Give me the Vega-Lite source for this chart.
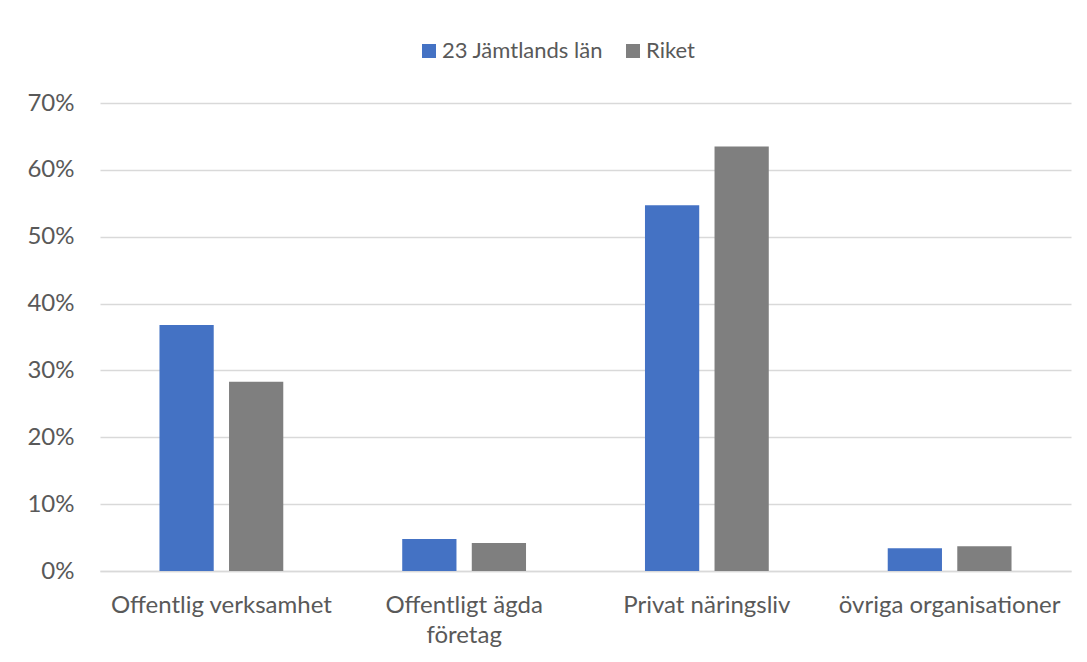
{
  "$schema": "https://vega.github.io/schema/vega-lite/v6.json",
  "width": 971,
  "height": 468,
  "autosize": {"type": "none"},
  "padding": {"left": 100, "top": 103, "right": 16, "bottom": 91},
  "background": "white",
  "config": {
    "view": {"stroke": null},
    "font": "Lato",
    "axis": {"labelColor": "#595959", "labelFont": "Lato", "labelFontSize": 24},
    "legend": {"labelColor": "#595959", "labelFont": "Lato", "labelFontSize": 22, "labelLimit": 300}
  },
  "data": {
    "values": [
      {"kategori": "Offentlig verksamhet", "serie": "23 Jämtlands län", "andel": 0.368},
      {"kategori": "Offentlig verksamhet", "serie": "Riket", "andel": 0.283},
      {"kategori": "Offentligt ägda företag", "serie": "23 Jämtlands län", "andel": 0.048},
      {"kategori": "Offentligt ägda företag", "serie": "Riket", "andel": 0.042},
      {"kategori": "Privat näringsliv", "serie": "23 Jämtlands län", "andel": 0.547},
      {"kategori": "Privat näringsliv", "serie": "Riket", "andel": 0.635},
      {"kategori": "övriga organisationer", "serie": "23 Jämtlands län", "andel": 0.034},
      {"kategori": "övriga organisationer", "serie": "Riket", "andel": 0.037}
    ]
  },
  "mark": {"type": "bar"},
  "encoding": {
    "x": {
      "field": "kategori",
      "type": "nominal",
      "sort": null,
      "scale": {"paddingInner": 0.49, "paddingOuter": 0.245},
      "axis": {
        "title": null,
        "labelAngle": 0,
        "ticks": false,
        "domainColor": "#d9d9d9",
        "domainWidth": 1.3,
        "labelPadding": 22,
        "labelLineHeight": 30,
        "labelLimit": 300,
        "labelExpr": "datum.label == 'Offentligt ägda företag' ? ['Offentligt ägda', 'företag'] : datum.label"
      }
    },
    "xOffset": {
      "field": "serie",
      "type": "nominal",
      "scale": {"paddingInner": 0.22}
    },
    "y": {
      "field": "andel",
      "type": "quantitative",
      "scale": {"domain": [0, 0.7]},
      "axis": {
        "title": null,
        "format": ".0%",
        "values": [0, 0.1, 0.2, 0.3, 0.4, 0.5, 0.6, 0.7],
        "domain": false,
        "ticks": false,
        "labelPadding": 26,
        "gridColor": "#d9d9d9",
        "gridWidth": 1.3
      }
    },
    "color": {
      "field": "serie",
      "type": "nominal",
      "scale": {"domain": ["23 Jämtlands län", "Riket"], "range": ["#4472C4", "#7F7F7F"]},
      "legend": {
        "title": null,
        "orient": "none",
        "direction": "horizontal",
        "legendX": 318,
        "legendY": -63,
        "symbolType": "square",
        "symbolSize": 196,
        "symbolStrokeWidth": 0,
        "labelOffset": 2,
        "columnPadding": 18
      }
    }
  }
}
